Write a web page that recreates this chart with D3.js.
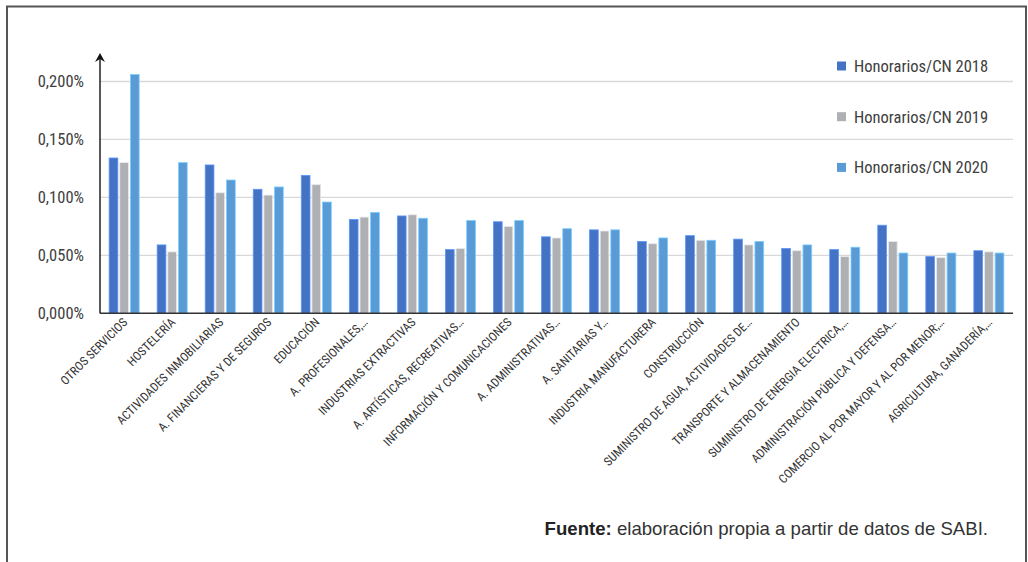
<!DOCTYPE html>
<html>
<head>
<meta charset="utf-8">
<script src="https://cdn.jsdelivr.net/npm/d3@7"></script>
<style>
  html, body { margin: 0; padding: 0; background: #fff; }
  svg { display: block; }
  .narrow { font-family: "Liberation Sans Narrow", "Arial Narrow", "Roboto Condensed", sans-serif; }
</style>
</head>
<body>
<svg id="chart" width="1028" height="562"></svg>
<script>
// Sectors, ordered as shown on the horizontal axis
const categories = [
  "OTROS SERVICIOS", "HOSTELERÍA", "ACTIVIDADES INMOBILIARIAS",
  "A. FINANCIERAS Y DE SEGUROS", "EDUCACIÓN", "A. PROFESIONALES,…",
  "INDUSTRIAS EXTRACTIVAS", "A. ARTÍSTICAS, RECREATIVAS…",
  "INFORMACIÓN Y COMUNICACIONES", "A. ADMINISTRATIVAS…", "A. SANITARIAS Y…",
  "INDUSTRIA MANUFACTURERA", "CONSTRUCCIÓN",
  "SUMINISTRO DE AGUA, ACTIVIDADES DE…", "TRANSPORTE Y ALMACENAMIENTO",
  "SUMINISTRO DE ENERGIA ELECTRICA,…", "ADMINISTRACIÓN PÚBLICA Y DEFENSA…",
  "COMERCIO AL POR MAYOR Y AL POR MENOR;…", "AGRICULTURA, GANADERÍA,…"
];

// Fees / net turnover, in percent
const honorarios2018 = [0.134, 0.059, 0.128, 0.107, 0.119, 0.081, 0.084, 0.055, 0.079, 0.066, 0.072, 0.062, 0.067, 0.064, 0.056, 0.055, 0.076, 0.049, 0.054];
const honorarios2019 = [0.130, 0.053, 0.104, 0.102, 0.111, 0.083, 0.085, 0.056, 0.075, 0.065, 0.071, 0.060, 0.063, 0.059, 0.054, 0.049, 0.062, 0.048, 0.053];
const honorarios2020 = [0.206, 0.130, 0.115, 0.109, 0.096, 0.087, 0.082, 0.080, 0.080, 0.073, 0.072, 0.065, 0.063, 0.062, 0.059, 0.057, 0.052, 0.052, 0.052];

const seriesNames = ["Honorarios/CN 2018", "Honorarios/CN 2019", "Honorarios/CN 2020"];
const seriesColors = ["#4472C4", "#AFB0B3", "#5B9BD5"];
const yTicks = [0, 0.05, 0.10, 0.15, 0.20];

const seriesValues = [honorarios2018, honorarios2019, honorarios2020];
const rows = categories.map((c, i) => ({ cat: c, vals: seriesValues.map(s => s[i]) }));

const svg = d3.select("#chart");

// outer frame
svg.append("rect")
  .attr("x", 7).attr("y", 6.5).attr("width", 1019).attr("height", 600)
  .attr("fill", "none").attr("stroke", "#555").attr("stroke-width", 2);

const plotLeft = 100, plotRight = 1013, plotTop = 81.5, plotBottom = 313.3;

const x = d3.scaleBand().domain(categories).range([plotLeft, plotRight]).paddingInner(0.375).paddingOuter(0.19);
const xs = d3.scaleBand().domain(d3.range(3)).range([0, x.bandwidth()]).paddingInner(0.18);
const y = d3.scaleLinear().domain([0, 0.2]).range([plotBottom, plotTop]);

const fmt = v => d3.format(".3f")(v).replace(".", ",") + "%";

// gridlines
svg.append("g").selectAll("line").data(yTicks.slice(1)).join("line")
  .attr("x1", plotLeft).attr("x2", plotRight)
  .attr("y1", d => y(d)).attr("y2", d => y(d))
  .attr("stroke", "#d9d9d9").attr("stroke-width", 1.3);

// y tick labels
svg.append("g").selectAll("text").data(yTicks).join("text")
  .attr("class", "narrow")
  .attr("x", 84).attr("y", d => y(d)).attr("dy", "0.36em")
  .attr("text-anchor", "end").attr("font-size", 16.5).attr("fill", "#404040")
  .text(fmt);

// bars
const groups = svg.append("g").selectAll("g").data(rows).join("g")
  .attr("transform", d => `translate(${x(d.cat)},0)`);
groups.selectAll("rect").data(d => d.vals.map((v, k) => ({ v, k }))).join("rect")
  .attr("x", d => xs(d.k)).attr("width", xs.bandwidth())
  .attr("y", d => y(d.v)).attr("height", d => y(0) - y(d.v))
  .attr("fill", d => seriesColors[d.k])
  .attr("stroke", d => d3.color(seriesColors[d.k]).brighter(0.8))
  .attr("stroke-width", 0.8);

// x baseline
svg.append("line").attr("x1", plotLeft).attr("x2", plotRight).attr("y1", plotBottom).attr("y2", plotBottom)
  .attr("stroke", "#333").attr("stroke-width", 1.6);

// y axis with arrow
svg.append("line").attr("x1", plotLeft).attr("x2", plotLeft).attr("y1", plotBottom).attr("y2", 56)
  .attr("stroke", "#111").attr("stroke-width", 1.4);
svg.append("path").attr("d", `M${plotLeft - 5},${62} L${plotLeft},${53} L${plotLeft + 5},${62} L${plotLeft},${59} Z`)
  .attr("fill", "#111");

// category labels
svg.append("g").selectAll("text").data(categories).join("text")
  .attr("class", "narrow")
  .attr("transform", d => `translate(${x(d) + x.bandwidth() / 2 + 4},${323}) rotate(-45)`)
  .attr("text-anchor", "end").attr("font-size", 12.2).attr("fill", "#333")
  .text(d => d);

// legend
const legend = svg.append("g").selectAll("g").data(seriesNames).join("g")
  .attr("transform", (d, i) => `translate(837,${66 + i * 50.7})`);
legend.append("rect").attr("x", 0).attr("y", -4.5).attr("width", 9).attr("height", 9)
  .attr("fill", (d, i) => seriesColors[i]);
legend.append("text").attr("class", "narrow")
  .attr("x", 17).attr("dy", "0.36em").attr("font-size", 16.5).attr("fill", "#404040")
  .text(d => d);

// source note
const note = svg.append("text")
  .attr("x", 988).attr("y", 535).attr("text-anchor", "end")
  .attr("font-family", "'Liberation Sans', Arial, sans-serif").attr("font-size", 18.6).attr("fill", "#333");
note.append("tspan").attr("font-weight", "bold").attr("fill", "#222").text("Fuente:");
note.append("tspan").text(" elaboración propia a partir de datos de SABI.");
</script>
</body>
</html>
